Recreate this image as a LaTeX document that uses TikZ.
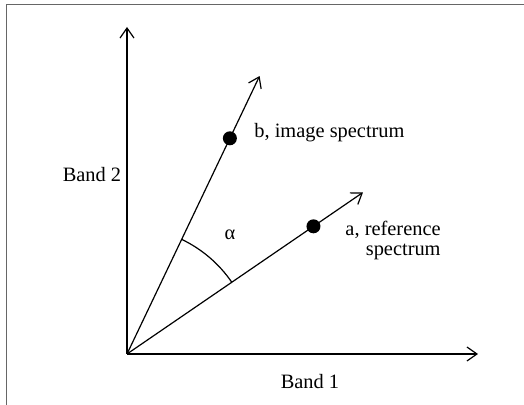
\documentclass[tikz,border=0pt]{standalone}
\usepackage{fontspec}
\setmainfont{Liberation Serif}
\usetikzlibrary{arrows.meta,positioning,calc}

\begin{document}
\begin{tikzpicture}[x=0.5pt,y=0.5pt,
  axis/.style={-{Straight Barb[length=5pt,width=7pt]},line width=0.6pt},
  spot/.style={circle,fill=black,inner sep=0pt,minimum size=7pt},
  txt/.style={font=\fontsize{10.2}{10}\selectfont,inner sep=1pt},
  box/.style={gray!80!black,line width=0.5pt}
]

\def\angb{64.5}
\def\anga{34.4}

\useasboundingbox (0,0) rectangle (524,405);

% frame (only top and left edges show)
\draw[box] (6,0) -- (6,400) -- (524,400);

\coordinate (O) at (127,51);
\coordinate (ytip) at (127,378);
\coordinate (xtip) at (478,51);
\coordinate (btip) at ($(O)+(\angb:308)$);
\coordinate (atip) at ($(O)+(\anga:286)$);

\draw[axis] (O) -- (ytip);
\draw[axis] (O) -- (xtip);
\draw[axis] (O) -- (btip);
\draw[axis] (O) -- (atip);

\node[spot] (b) at ($(O)+(\angb:239)$) {};
\node[spot] (a) at ($(O)+(\anga:226)$) {};

\draw[line width=0.6pt] ($(O)+(\anga:127)$) arc[start angle=\anga,end angle=\angb,radius=127];

\node[txt] (alpha) at (230,170) {α};
\node[txt,anchor=west] (blabel) at (252,272) {b, image spectrum};
\node[txt,align=right,anchor=east] (alabel) at (443,165) {a, reference\\spectrum};
\node[txt] (band1) at (310,23) {Band 1};
\node[txt] (band2) at (92,230) {Band 2};

\end{tikzpicture}
\end{document}
